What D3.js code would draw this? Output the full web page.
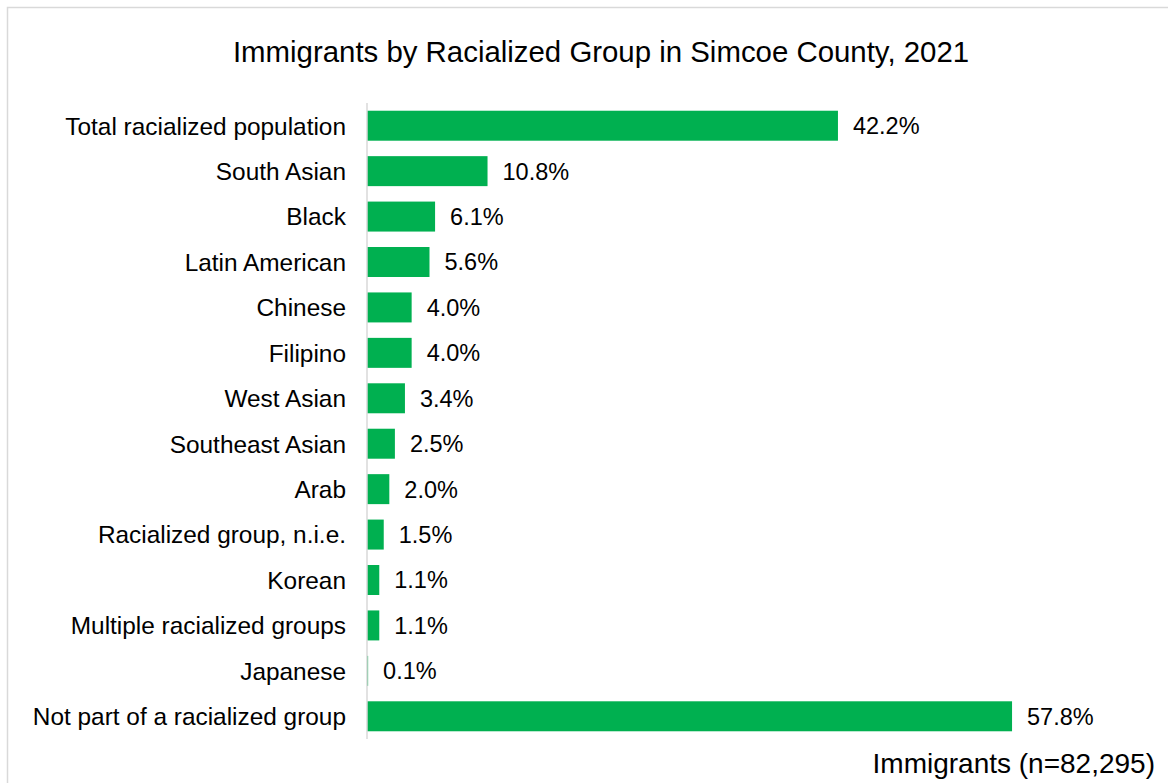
<!DOCTYPE html>
<html>
<head>
<meta charset="utf-8">
<script src="https://cdn.jsdelivr.net/npm/d3@7"></script>
<style>
  html, body { margin: 0; padding: 0; background: #fff; }
  svg { display: block; font-family: "Liberation Sans", Arial, sans-serif; }
</style>
</head>
<body>
<script>
// Share of immigrants by racialized group, Simcoe County 2021 (%)
const categories = [
  "Total racialized population",
  "South Asian",
  "Black",
  "Latin American",
  "Chinese",
  "Filipino",
  "West Asian",
  "Southeast Asian",
  "Arab",
  "Racialized group, n.i.e.",
  "Korean",
  "Multiple racialized groups",
  "Japanese",
  "Not part of a racialized group"
];
const values = [42.2, 10.8, 6.1, 5.6, 4.0, 4.0, 3.4, 2.5, 2.0, 1.5, 1.1, 1.1, 0.1, 57.8];
const valueLabels = ["42.2%", "10.8%", "6.1%", "5.6%", "4.0%", "4.0%", "3.4%", "2.5%", "2.0%", "1.5%", "1.1%", "1.1%", "0.1%", "57.8%"];
const titleText = "Immigrants by Racialized Group in Simcoe County, 2021";
const footerText = "Immigrants (n=82,295)";

const W = 1168, H = 783;
const svg = d3.select("body").append("svg").attr("width", W).attr("height", H);

// outer frame
svg.append("rect")
  .attr("x", 7.5).attr("y", 7.5)
  .attr("width", W + 20).attr("height", H + 20)
  .attr("fill", "none").attr("stroke", "#d9d9d9").attr("stroke-width", 1.5);

const x0 = 367;
const x = d3.scaleLinear().domain([0, 60]).range([x0, x0 + 60 * 11.16]);
const y = d3.scaleBand().domain(categories).range([103, 739]).paddingInner(0.34).paddingOuter(0.17);

svg.append("text")
  .attr("x", 601).attr("y", 61.5)
  .attr("text-anchor", "middle")
  .attr("font-size", 29.4).attr("fill", "#000")
  .text(titleText);

// bars
svg.selectAll("rect.bar").data(values).join("rect")
  .attr("class", "bar")
  .attr("x", x(0))
  .attr("y", (d, i) => y(categories[i]))
  .attr("width", d => x(d) - x(0))
  .attr("height", y.bandwidth())
  .attr("fill", "#00b050");

// category axis
const axis = svg.append("g").attr("transform", `translate(${x0},0)`)
  .call(d3.axisLeft(y).tickSize(0).tickPadding(21));
axis.select(".domain").attr("stroke", "#d9d9d9").attr("stroke-width", 1.5)
  .attr("d", "M0,103V739");
axis.selectAll("text")
  .attr("font-size", 24.4)
  .attr("font-family", "Liberation Sans, Arial, sans-serif")
  .attr("fill", "#000")
  .attr("dy", "0.36em");

// value labels
svg.selectAll("text.val").data(values).join("text")
  .attr("class", "val")
  .attr("x", d => x(d) + 15)
  .attr("y", (d, i) => y(categories[i]) + y.bandwidth() / 2)
  .attr("dy", "0.36em")
  .attr("font-size", 23.5).attr("fill", "#000")
  .text((d, i) => valueLabels[i]);

svg.append("text")
  .attr("x", 1155).attr("y", 773)
  .attr("text-anchor", "end")
  .attr("font-size", 28).attr("fill", "#000")
  .text(footerText);
</script>
</body>
</html>
